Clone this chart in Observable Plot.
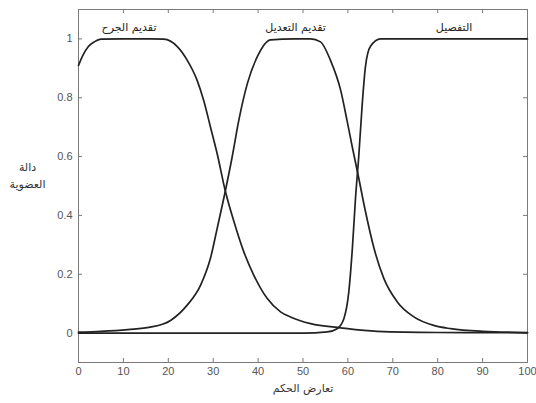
<!DOCTYPE html>
<html><head><meta charset="utf-8">
<script src="https://cdn.jsdelivr.net/npm/d3@7"></script>
<script src="https://cdn.jsdelivr.net/npm/@observablehq/plot@0.6"></script>
<style>body{margin:0;background:#fff}</style>
</head><body><div id="chart"></div>
<script>
// Membership function labels
const setNames = ["تقديم الجرح", "تقديم التعديل", "التفصيل"];
const xLabel = "تعارض الحكم";
const yLabel = "دالة\nالعضوية";

// Curve A
const xA = [0, 1, 2.2, 3.5, 5, 10, 16, 19, 22, 24.2, 26.4, 27.9, 29.4, 30.9, 32.7, 34.6, 36.8, 39, 42, 45, 47.2, 51.7, 58.4, 66.5, 80, 100];
const yA = [0.91, 0.945, 0.974, 0.99, 0.999, 1, 1, 0.999, 0.974, 0.928, 0.86, 0.79, 0.70, 0.609, 0.483, 0.38, 0.277, 0.198, 0.118, 0.072, 0.055, 0.032, 0.018, 0.006, 0.002, 0.001];
// Curve B
const xB = [0, 5, 11, 16, 20.5, 24.2, 27.2, 29.4, 30.9, 32.7, 34.2, 35.7, 37.6, 39.8, 42.8, 48, 51.7, 53.9, 56.1, 58.4, 59.8, 61, 62.4, 63.9, 65.8, 68, 71, 74.7, 79.1, 82.9, 90, 100];
const yB = [0.003, 0.006, 0.012, 0.02, 0.043, 0.095, 0.163, 0.255, 0.357, 0.483, 0.597, 0.723, 0.848, 0.939, 0.997, 1, 1, 0.99, 0.928, 0.825, 0.723, 0.631, 0.528, 0.414, 0.289, 0.186, 0.106, 0.055, 0.026, 0.015, 0.006, 0.002];
// Curve C
const xC = [0, 50, 55.4, 57.6, 59.1, 60.2, 61, 61.7, 62.4, 63.2, 63.9, 65, 67.3, 80, 100];
const yC = [0, 0, 0.004, 0.015, 0.049, 0.14, 0.289, 0.46, 0.597, 0.78, 0.905, 0.974, 1, 1, 1];

const xTicks = [0, 10, 20, 30, 40, 50, 60, 70, 80, 90, 100];
const yTicks = [0, 0.2, 0.4, 0.6, 0.8, 1];

const series = [
  {name: setNames[0], x: xA, y: yA},
  {name: setNames[1], x: xB, y: yB},
  {name: setNames[2], x: xC, y: yC}
];
const rows = series.flatMap(s => s.x.map((x, i) => ({name: s.name, x, y: s.y[i]})));
const labelRows = series.map(s => {
  const xs = s.x.filter((x, i) => s.y[i] >= 0.99);
  return {name: s.name, x: (d3.min(xs) + d3.max(xs)) / 2};
});

const W = 536, H = 403, mL = 78, mR = 9, mT = 9, mB = 41;
const plotW = W - mL - mR, plotH = H - mT - mB, tk = 4;
const axisColor = "#7a7a7a";
const textColor = "#555";
const arabicFont = "DejaVu Sans, sans-serif";

const chart = Plot.plot({
  width: W, height: H,
  marginLeft: mL, marginRight: mR, marginTop: mT, marginBottom: mB,
  style: {fontFamily: "Liberation Sans, Arial, sans-serif", fontSize: "11px", background: "#fff"},
  x: {domain: [0, 100]},
  y: {domain: [-0.1, 1.1]},
  marks: [
    Plot.frame({stroke: axisColor}),
    // inward ticks on all four sides
    Plot.tickX(xTicks, {x: d => d, insetTop: plotH - tk, stroke: axisColor}),
    Plot.tickX(xTicks, {x: d => d, insetBottom: plotH - tk, stroke: axisColor}),
    Plot.tickY(yTicks, {y: d => d, insetRight: plotW - tk, stroke: axisColor}),
    Plot.tickY(yTicks, {y: d => d, insetLeft: plotW - tk, stroke: axisColor}),
    Plot.axisX(xTicks, {anchor: "bottom", tickSize: 0, tickPadding: 5, fill: textColor, label: null, tickFormat: d => String(d)}),
    Plot.axisY(yTicks, {anchor: "left", tickSize: 0, tickPadding: 6, fill: textColor, label: null, tickFormat: d => String(d)}),
    Plot.line(rows, {x: "x", y: "y", z: "name", stroke: "#222", strokeWidth: 1.7, curve: "monotone-x"}),
    Plot.text(labelRows, {x: "x", text: "name", frameAnchor: "top", dy: 14, fontFamily: arabicFont, fontSize: 11, fill: "#222"}),
    Plot.text([yLabel], {text: d => d, frameAnchor: "left", dx: -51, dy: -12, textAnchor: "middle", lineHeight: 1.5, fontFamily: arabicFont, fontSize: 11, fill: "#333"}),
    Plot.text([xLabel], {text: d => d, frameAnchor: "bottom", dy: 29, fontFamily: arabicFont, fontSize: 11, fill: "#333"})
  ]
});
document.getElementById("chart").append(chart);
</script>
</body></html>
